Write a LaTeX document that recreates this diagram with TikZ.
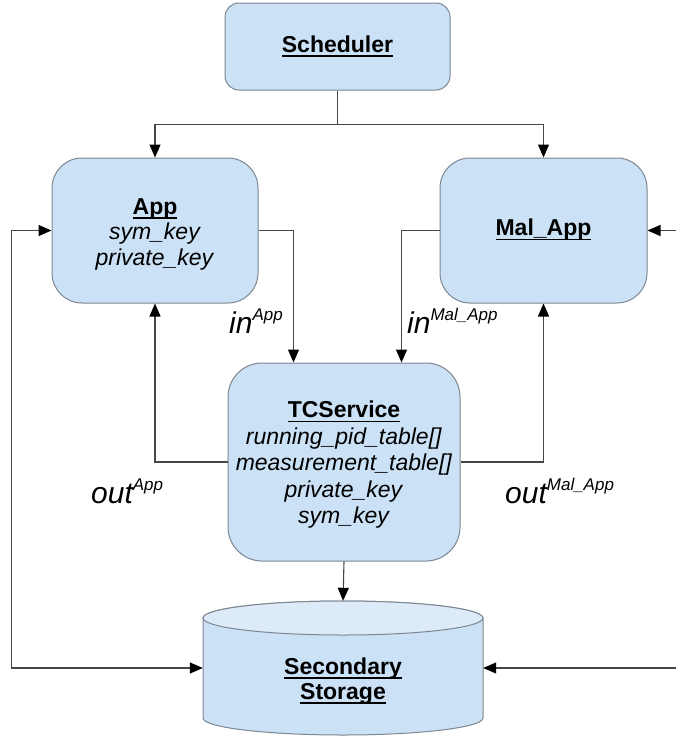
\documentclass[tikz,border=0pt]{standalone}
\usepackage{fontspec}
\setmainfont{Liberation Sans}
\usetikzlibrary{arrows.meta}
\definecolor{boxfill}{RGB}{203,225,245}
\definecolor{boxline}{RGB}{125,135,145}
\definecolor{capfill}{RGB}{221,235,248}
\definecolor{wire}{RGB}{70,70,70}
\newsavebox\ulsave
\newcommand{\ulbox}[1]{\sbox\ulsave{#1}\rlap{\rule[-4.5pt]{\wd\ulsave}{1.8pt}}\usebox\ulsave}
\newcommand{\supx}[1]{\raisebox{13pt}{\fontsize{17}{17}\selectfont #1}}
\begin{document}
\begin{tikzpicture}[x=1pt,y=-1pt,
  box/.style={draw=boxline,fill=boxfill,line width=1pt,rounded corners=#1},
  txt/.style={align=center,inner sep=0pt,font=\fontsize{23}{25.5}\selectfont},
  lbl/.style={inner sep=0pt,font=\fontsize{30}{30}\selectfont\itshape},
  wireline/.style={draw=wire,line width=1.1pt},
  arr/.style={wireline,-{Triangle[length=13pt,width=11pt,color=black]}},
  dbl/.style={wireline,{Triangle[length=13pt,width=11pt,color=black]}-{Triangle[length=13pt,width=11pt,color=black]}}
]
\useasboundingbox (0,0) rectangle (676,736);
\clip (0,0) rectangle (676,736);
\fill[white] (0,0) rectangle (676,736);

% boxes
\node[box=14pt,minimum width=225pt,minimum height=87pt] (sched) at (337.5,46.5) {};
\node[box=30pt,minimum width=206pt,minimum height=145pt] (app) at (155,230.5) {};
\node[box=30pt,minimum width=207pt,minimum height=145pt] (mal) at (543.5,230.5) {};
\node[box=34pt,minimum width=232pt,minimum height=198pt] (tcs) at (344,462) {};

% box texts
\node[txt] (schedlbl) at (337.5,46) {\textbf{\ulbox{Scheduler}}};
\node[txt] (applbl) at (155,234) {\textbf{\ulbox{App}}\\\textit{sym\_key}\\\textit{private\_key}};
\node[txt] (mallbl) at (543.5,230) {\textbf{\ulbox{Mal\_App}}};
\node[txt,font=\fontsize{23}{26.5}\selectfont] (tcslbl) at (344,465) {\textbf{\ulbox{TCService}}\\\textit{running\_pid\_table[]}\\\textit{measurement\_table[]}\\\textit{private\_key}\\\textit{sym\_key}};

% storage cylinder
\node[inner sep=0pt,minimum width=280pt,minimum height=134pt] (stor) at (343,668) {};
\path[draw=boxline,fill=boxfill,line width=1pt] (203,618) -- (203,718) arc[start angle=180,end angle=0,x radius=140,y radius=17] -- (483,618) arc[start angle=0,end angle=-180,x radius=140,y radius=17] -- cycle;
\draw[draw=boxline,fill=capfill,line width=1pt] (343,618) ellipse[x radius=140,y radius=17];
\node[txt] (storlbl) at (343,681) {\textbf{\ulbox{Secondary}}\\\textbf{\ulbox{Storage}}};

% connectors
\draw[wireline] (sched.south) -- ++(0,34) coordinate (j);
\draw[arr] (j) -| (app.north);
\draw[arr] (j) -| (mal.north);

\draw[dbl] (app.west) -- ++(-40,0) |- (stor.west);
\draw[dbl] (mal.east) -- ++(31,0) |- (stor.east);

\draw[arr] (app.east) -- ++(35,0) coordinate (a1) -- (a1 |- tcs.north);
\draw[arr] (mal.west) -- ++(-38,0) coordinate (m1) -- (m1 |- tcs.north);

\draw[arr] (tcs.west) -| (app.south);
\draw[arr] (tcs.east) -| (mal.south);

\draw[arr] (tcs.south) -- (stor.north);

% labels
\node[lbl,anchor=base west] (inapp) at (229,333) {in\supx{App}};
\node[lbl,anchor=base west] (inmal) at (407,333) {in\supx{Mal\_App}};
\node[lbl,anchor=base west] (outapp) at (91,503) {out\supx{App}};
\node[lbl,anchor=base west] (outmal) at (505,503) {out\supx{Mal\_App}};
\end{tikzpicture}
\end{document}
